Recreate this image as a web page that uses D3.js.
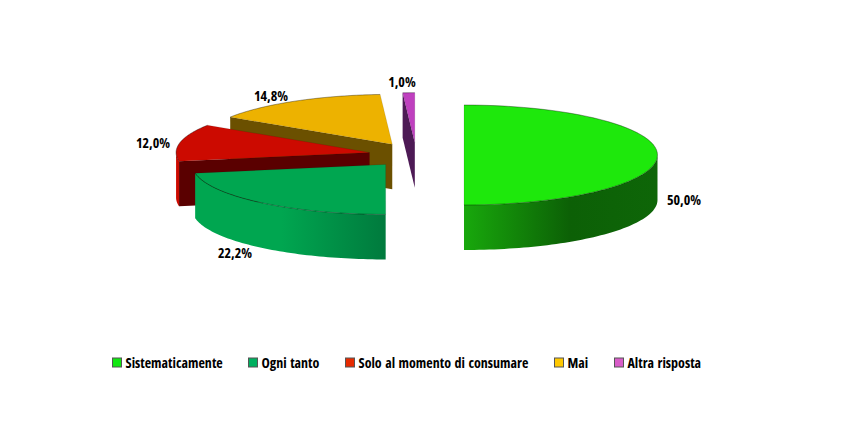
<!DOCTYPE html>
<html><head><meta charset="utf-8">
<script src="https://cdn.jsdelivr.net/npm/d3@7/dist/d3.min.js"></script>
<style>
html,body{margin:0;padding:0;background:#fff;}
text{font-family:"Open Sans",sans-serif;font-weight:700;font-stretch:75%;fill:#000;font-size:14px;}
text.leg{word-spacing:1px;}
</style></head><body>
<svg id="c" width="842" height="425"></svg>
<script>
const categories=["Sistematicamente","Ogni tanto","Solo al momento di consumare","Mai","Altra risposta"];
const values=[50.0,22.2,12.0,14.8,1.0];
const topColors=["#1ee80c","#00a650","#cc0a00","#edb200","#bf40bf"];
const wallColors=["#0c6006","#00a650","#cc0a00","#6b5000","#4d1a55"];
const sideColors=["#0c6006","#007a3d","#5a0000","#6b5000","#4d1a55"];
const legendColors=["#11e711","#00b060","#e62a00","#ffc800","#d85cc8"];
const legendX=[112,248,345,554,614];
const labelCenters=[[684,200],[235,253],[153,143],[271,96],[402,82]];

const cx=416.3,cy=155,rx=193.5,ry=50,depth=45,explode=0.2465;
const svg=d3.select("#c");
const defs=svg.append("defs");
const pie=d3.pie().sort(null)(values);
const fmt=v=>v.toFixed(1).replace(".",",")+"%";
const line=d3.line().x(d=>d[0]).y(d=>d[1]);
const slices=pie.map((p,i)=>{
  const mid=(p.startAngle+p.endAngle)/2;
  return {i,a0:p.startAngle,a1:p.endAngle,
    x:cx+explode*rx*Math.sin(mid),y:cy-explode*rx*(ry/rx)*Math.cos(mid)};
});
const pt=(s,a,dy=0)=>[s.x+rx*Math.sin(a),s.y-ry*Math.cos(a)+dy];
const sample=(a0,a1)=>d3.range(0,61).map(k=>a0+(a1-a0)*k/60);

function grad(id,x1,x2,stops){
  const g=defs.append("linearGradient").attr("id",id).attr("gradientUnits","userSpaceOnUse")
    .attr("x1",x1).attr("x2",x2).attr("y1",0).attr("y2",0);
  stops.forEach(s=>g.append("stop").attr("offset",s[0]).attr("stop-color",s[1]));
}
grad("g0",464,657,[[0,"#18a80c"],[0.55,"#0c6006"],[1,"#0e6608"]]);
grad("g1",196,386,[[0,"#00a650"],[0.45,"#00a650"],[1,"#007a3d"]]);

const order=[4,3,2,1,0];
order.forEach(i=>{
  const s=slices[i],g=svg.append("g");
  if(s.a0>Math.PI){
    const e=pt(s,s.a0),c=[s.x,s.y];
    g.append("path").attr("d",line([c,e,[e[0],e[1]+depth],[c[0],c[1]+depth]])+"Z")
      .attr("fill",sideColors[i]);
  }
  const f0=Math.max(s.a0,Math.PI/2),f1=Math.min(s.a1,1.5*Math.PI);
  if(f1>f0){
    const arc=sample(f0,f1);
    const pts=arc.map(a=>pt(s,a)).concat(arc.slice().reverse().map(a=>pt(s,a,depth)));
    g.append("path").attr("d",line(pts)+"Z")
      .attr("fill",i<2?`url(#g${i})`:wallColors[i]);
  }
  const rim=sample(s.a0,s.a1).map(a=>pt(s,a));
  g.append("path").attr("d",line([[s.x,s.y]].concat(rim))+"Z")
    .attr("fill",topColors[i]).attr("stroke","#000").attr("stroke-opacity",0.2).attr("stroke-width",0.5);
  g.append("path").attr("d",line(rim)).attr("fill","none")
    .attr("stroke","#000").attr("stroke-opacity",0.45).attr("stroke-width",0.6);
});

slices.forEach(s=>{
  svg.append("text").attr("x",labelCenters[s.i][0]).attr("y",labelCenters[s.i][1]+5)
    .attr("text-anchor","middle").text(fmt(values[s.i]));
});
categories.forEach((c,i)=>{
  svg.append("rect").attr("x",legendX[i]+.5).attr("y",358).attr("width",9).attr("height",9)
    .attr("fill",legendColors[i]).attr("stroke","#555").attr("stroke-width",1);
  svg.append("text").attr("class","leg").attr("x",legendX[i]+13.5).attr("y",367.5).text(c);
});
</script></body></html>
